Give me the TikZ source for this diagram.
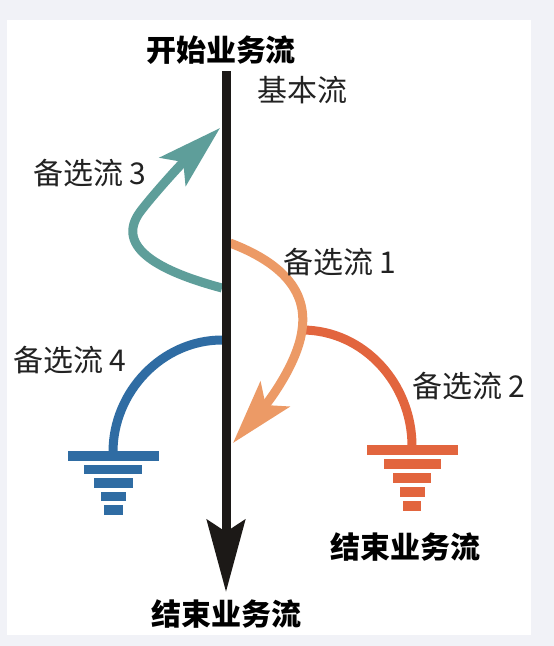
\documentclass[tikz,border=0pt]{standalone}
\usepackage{fontspec}
\newfontfamily\cjk{Noto Sans CJK SC}
\usetikzlibrary{arrows.meta}

\definecolor{pagebg}{HTML}{F1F2F7}
\definecolor{mainline}{HTML}{1C1917}
\definecolor{altone}{HTML}{EC9A66}
\definecolor{alttwo}{HTML}{E2653E}
\definecolor{altthree}{HTML}{5E9E9A}
\definecolor{altfour}{HTML}{2F6CA3}
\definecolor{labelgrey}{HTML}{222222}

\begin{document}
\begin{tikzpicture}[
    x=1pt, y=-1pt,
    flow/.style={line width=9pt, draw=#1},
    bigtip/.style={-{Stealth[length=64pt,width=38pt,inset=14pt]}},
    ttl/.style={font=\cjk\bfseries\fontsize{30}{36}\selectfont, inner sep=0pt},
    lbl/.style={font=\cjk\fontsize{30}{36}\selectfont, text=labelgrey, inner sep=0pt, anchor=west},
]
    % page and white panel
    \fill[pagebg] (0,0) rectangle (554,646);
    \fill[white] (7,20) rectangle (531,635);

    % end points of the flows
    \coordinate (top) at (226,71);
    \coordinate (bot) at (226,592);
    \coordinate (alt3s) at (222,288);
    \coordinate (alt3e) at (220,128);
    \coordinate (alt1s) at (230,243);
    \coordinate (alt1m) at (302,330);
    \coordinate (alt1e) at (233,443);
    \coordinate (alt2e) at (412,446);
    \coordinate (alt4s) at (222,340);
    \coordinate (alt4e) at (113,452);

    % alternative flows
    \draw[flow=altthree, bigtip] (alt3s) .. controls (162,272) and (114,248) .. (140,212)
        .. controls (152,196) and (180,165) .. (alt3e);
    \draw[flow=alttwo] (alt1m) .. controls (364,330) and (412,384) .. (alt2e);
    \draw[flow=altone, bigtip] (alt1s) .. controls (280,262) and (308,290) .. (alt1m)
        .. controls (298,362) and (270,400) .. (alt1e);
    \draw[flow=altfour] (alt4s) .. controls (162,340) and (113,392) .. (alt4e);

    % ground symbols
    \foreach \w [count=\i from 0] in {91,58,39,25,19}
        \fill[altfour] ({113-\w/2},{451+13.6*\i}) rectangle ++(\w,9.5);
    \foreach \w [count=\i from 0] in {91,57,38,25,18}
        \fill[alttwo] ({412-\w/2},{445+14*\i}) rectangle ++(\w,9.5);

    % basic flow
    \draw[line width=9pt, mainline, -{Stealth[length=72pt,width=38pt,inset=12pt]}] (top) -- (bot);

    % texts
    \node[ttl] (start) at (221,50) {开始业务流};
    \node[ttl] (stopmain) at (226,614) {结束业务流};
    \node[ttl] (stopalt) at (405,547) {结束业务流};
    \node[font=\cjk\fontsize{30}{36}\selectfont, text=labelgrey, inner sep=0pt] (basic) at (302,90) {基本流};
    \node[lbl] (lbl3) at (33,173) {备选流 3};
    \node[lbl] (lbl4) at (13,360) {备选流 4};
    \node[lbl] (lbl1) at (283,262) {备选流 1};
    \node[lbl] (lbl2) at (412,386) {备选流 2};
\end{tikzpicture}
\end{document}
